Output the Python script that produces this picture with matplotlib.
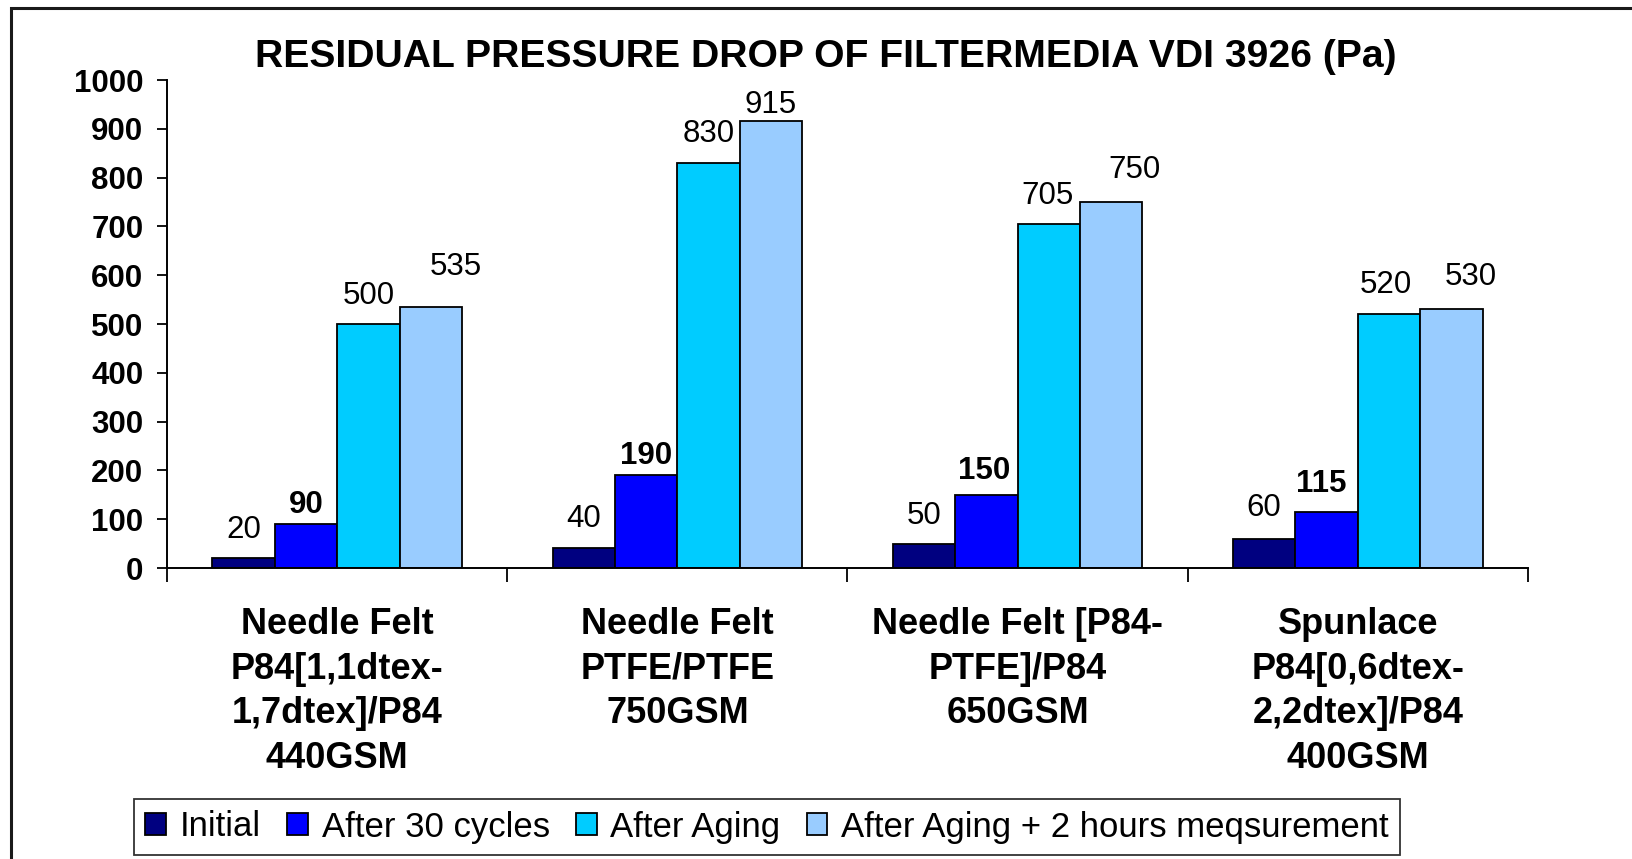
import matplotlib
matplotlib.use("Agg")
import matplotlib.pyplot as plt
from matplotlib.patches import Rectangle
import numpy as np

plt.rcParams["font.family"] = ["Liberation Sans", "DejaVu Sans"]

categories = [
    "Needle Felt\nP84[1,1dtex-\n1,7dtex]/P84\n440GSM",
    "Needle Felt\nPTFE/PTFE\n750GSM",
    "Needle Felt [P84-\nPTFE]/P84\n650GSM",
    "Spunlace\nP84[0,6dtex-\n2,2dtex]/P84\n400GSM",
]
series_names = ["Initial", "After 30 cycles", "After Aging",
                "After Aging + 2 hours meqsurement"]
initial = [20, 40, 50, 60]
after_30_cycles = [90, 190, 150, 115]
after_aging = [500, 830, 705, 520]
after_aging_2h = [535, 915, 750, 530]
yticks = [0, 100, 200, 300, 400, 500, 600, 700, 800, 900, 1000]

colors = ["#000080", "#0000ff", "#00ccff", "#99ccff"]
bold_labels = [False, True, False, False]
# hand-placed label nudges (points), as in the original sheet
label_dx = [[0, 0, 0, 18], [0, 0, 0, 0], [0, -2, -1, 17], [0, -4, -2, 14]]
label_dy = [[20, 14, 20, 29], [21, 14, 21, 12], [20, 17, 20, 23], [22, 20, 21, 23]]

fig = plt.figure(figsize=(16.33, 8.59), dpi=100, facecolor="white")
ax = fig.add_axes([167 / 1633, 1 - 568 / 859, (1528 - 167) / 1633, (568 - 80) / 859])

# outer frame of the pasted chart
fig.patches.append(Rectangle((11 / 1633, -0.05), 1.2, 1 - 8 / 859 + 0.05,
                             transform=fig.transFigure, fill=False,
                             edgecolor="#1a1a1a", lw=2.2))

x = np.arange(len(categories))
w = 0.1835
all_series = [initial, after_30_cycles, after_aging, after_aging_2h]
for i, (vals, name) in enumerate(zip(all_series, series_names)):
    pos = x + (i - 1.5) * w
    bars = ax.bar(pos, vals, w, color=colors[i], edgecolor="black", lw=1.3,
                  label=name, zorder=2)
    for j, (b, v) in enumerate(zip(bars, vals)):
        ax.annotate(str(v), (b.get_x() + b.get_width() / 2, v),
                    xytext=(label_dx[j][i], label_dy[j][i]), textcoords="offset points",
                    ha="center", va="center", fontsize=22.5,
                    fontweight="bold" if bold_labels[i] else "normal")

ax.set_xlim(-0.5, len(categories) - 0.5)
ax.set_ylim(0, 1000)
ax.set_yticks(yticks)
ax.set_yticklabels([str(t) for t in yticks], fontsize=22.5, fontweight="bold")
ax.set_xticks(np.arange(len(categories) + 1) - 0.5)
ax.set_xticklabels([])
ax.set_xticks(x, minor=True)
ax.set_xticklabels(categories, minor=True, fontsize=26, fontweight="bold",
                   linespacing=1.36, va="top")
ax.tick_params(axis="x", which="minor", length=0, pad=28)
ax.tick_params(axis="x", which="major", direction="out", length=10, width=1.3)
ax.tick_params(axis="y", direction="out", length=7, width=1.3, pad=10)
for s in ("top", "right"):
    ax.spines[s].set_visible(False)
for s in ("left", "bottom"):
    ax.spines[s].set_linewidth(1.4)

fig.text(826 / 1633, 1 - 57 / 859, "RESIDUAL PRESSURE DROP OF FILTERMEDIA VDI 3926 (Pa)",
         ha="center", va="center", fontsize=28.2, fontweight="bold")

leg = fig.legend(loc="center", bbox_to_anchor=(767 / 1633, 1 - 827 / 859), ncol=4,
                 frameon=True, fancybox=False, edgecolor="black", fontsize=25,
                 handlelength=0.6, handleheight=0.6, handletextpad=0.4,
                 columnspacing=0.75, borderpad=0.32, borderaxespad=0)
leg.get_frame().set_linewidth(1.3)

fig.savefig("out.png", dpi=100, facecolor="white")
